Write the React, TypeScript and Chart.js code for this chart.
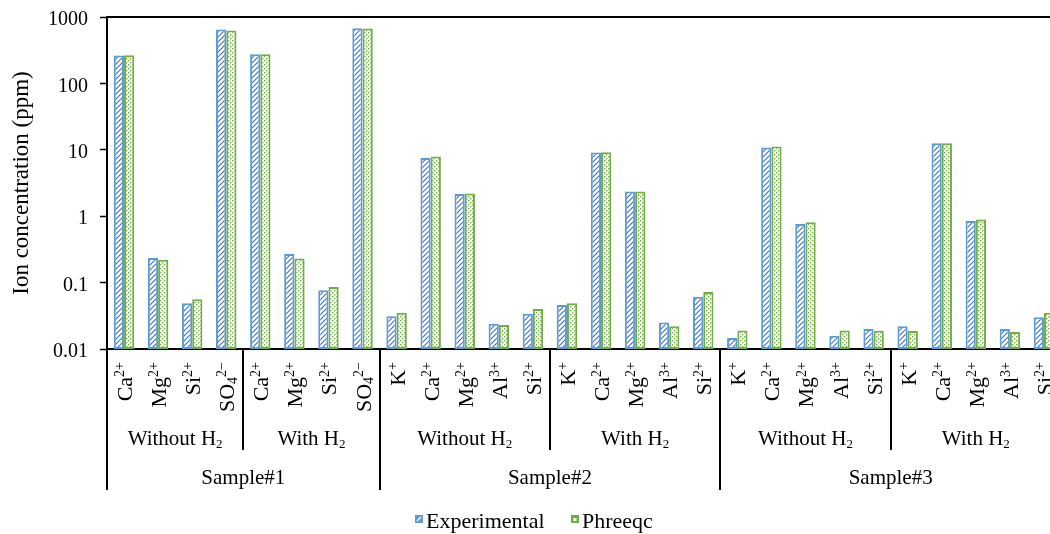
import React, { useEffect, useRef } from "react";
import { Chart, registerables } from "chart.js";

Chart.register(...registerables);

// ---------- data ----------
const ionLabels = [
  "Ca^{2+}", "Mg^{2+}", "Si^{2+}", "SO_{4}^{2−}",
  "Ca^{2+}", "Mg^{2+}", "Si^{2+}", "SO_{4}^{2−}",
  "K^{+}", "Ca^{2+}", "Mg^{2+}", "Al^{3+}", "Si^{2+}",
  "K^{+}", "Ca^{2+}", "Mg^{2+}", "Al^{3+}", "Si^{2+}",
  "K^{+}", "Ca^{2+}", "Mg^{2+}", "Al^{3+}", "Si^{2+}",
  "K^{+}", "Ca^{2+}", "Mg^{2+}", "Al^{3+}", "Si^{2+}",
];
const conditionLabels = [
  "Without H_{2}", "With H_{2}",
  "Without H_{2}", "With H_{2}",
  "Without H_{2}", "With H_{2}",
];
const conditionSizes = [4, 4, 5, 5, 5, 5];
const sampleLabels = ["Sample#1", "Sample#2", "Sample#3"];
const sampleSizes = [8, 10, 10];

const experimental = [
  262, 0.234, 0.049, 650,
  275, 0.27, 0.077, 675,
  0.031, 7.5, 2.16, 0.024, 0.034,
  0.046, 9.1, 2.35, 0.025, 0.061,
  0.0146, 10.8, 0.76, 0.0159, 0.020,
  0.022, 12.6, 0.85, 0.020, 0.030,
];
const phreeqc = [
  265, 0.22, 0.056, 625,
  275, 0.23, 0.086, 670,
  0.035, 7.9, 2.2, 0.023, 0.040,
  0.049, 9.2, 2.35, 0.022, 0.072,
  0.019, 11.2, 0.81, 0.019, 0.0188,
  0.0187, 12.6, 0.89, 0.018, 0.035,
];
const yTicks = [0.01, 0.1, 1, 10, 100, 1000];
const seriesNames = ["Experimental", "Phreeqc"];
const yTitle = "Ion concentration (ppm)";

// ---------- helpers ----------
const FONT = "'Liberation Serif', 'Times New Roman', serif";
const BLUE = "#5B9BD5";
const BLUE_DARK = "#4472C4";
const GREEN = "#70AD47";

type Seg = { t: string; k: "n" | "sup" | "sub" };
function parseRich(s: string): Seg[] {
  const segs: Seg[] = [];
  const re = /([_^])\{([^}]*)\}|([^_^]+)/g;
  let m: RegExpExecArray | null;
  while ((m = re.exec(s))) {
    if (m[3]) segs.push({ t: m[3], k: "n" });
    else segs.push({ t: m[2], k: m[1] === "^" ? "sup" : "sub" });
  }
  return segs;
}

function segFont(k: string, size: number) {
  const s = k === "n" ? size : Math.round(size * 0.62);
  return `${s}px ${FONT}`;
}

function richWidth(ctx: CanvasRenderingContext2D, segs: Seg[], size: number) {
  let w = 0;
  for (const sg of segs) {
    ctx.font = segFont(sg.k, size);
    w += ctx.measureText(sg.t).width;
  }
  return w;
}

// draws rich text starting at x (left), baseline y
function drawRich(ctx: CanvasRenderingContext2D, segs: Seg[], x: number, y: number, size: number) {
  let cx = x;
  ctx.textAlign = "left";
  ctx.textBaseline = "alphabetic";
  for (const sg of segs) {
    ctx.font = segFont(sg.k, size);
    let dy = 0;
    if (sg.k === "sup") dy = -size * 0.36;
    if (sg.k === "sub") dy = size * 0.12;
    ctx.fillText(sg.t, cx, y + dy);
    cx += ctx.measureText(sg.t).width;
  }
}

function makeHatch(): CanvasPattern | string {
  const c = document.createElement("canvas");
  c.width = 5;
  c.height = 5;
  const g = c.getContext("2d");
  if (!g) return "#fff";
  g.fillStyle = "#fff";
  g.fillRect(0, 0, 5, 5);
  g.strokeStyle = BLUE_DARK;
  g.lineWidth = 1.2;
  g.beginPath();
  g.moveTo(-1, 6);
  g.lineTo(6, -1);
  g.moveTo(-1, 1);
  g.lineTo(1, -1);
  g.moveTo(4, 6);
  g.lineTo(6, 4);
  g.stroke();
  const ctx = document.createElement("canvas").getContext("2d");
  return (ctx && ctx.createPattern(c, "repeat")) || "#fff";
}

function makeDots(): CanvasPattern | string {
  const c = document.createElement("canvas");
  c.width = 4;
  c.height = 4;
  const g = c.getContext("2d");
  if (!g) return "#fff";
  g.fillStyle = "#fff";
  g.fillRect(0, 0, 4, 4);
  g.fillStyle = GREEN;
  g.fillRect(0, 0, 1.4, 1.4);
  g.fillRect(2, 2, 1.4, 1.4);
  const ctx = document.createElement("canvas").getContext("2d");
  return (ctx && ctx.createPattern(c, "repeat")) || "#fff";
}

const overlayPlugin = {
  id: "overlay",
  afterDraw(chart: any) {
    const { ctx, chartArea, scales } = chart;
    const xs = scales.x;
    const step = xs.getPixelForValue(1) - xs.getPixelForValue(0);
    const boundary = (i: number) => xs.getPixelForValue(i) - step / 2;
    ctx.save();
    ctx.fillStyle = "#000";
    ctx.strokeStyle = "#000";

    // top frame line
    ctx.lineWidth = 2;
    ctx.beginPath();
    ctx.moveTo(chartArea.left - 1, chartArea.top);
    ctx.lineTo(chartArea.right, chartArea.top);
    ctx.stroke();

    // ion labels (rotated)
    const ionSize = 22;
    ionLabels.forEach((lab, i) => {
      const segs = parseRich(lab);
      const w = richWidth(ctx, segs, ionSize);
      const cx = xs.getPixelForValue(i);
      ctx.save();
      ctx.translate(cx + 8, chartArea.bottom + 13);
      ctx.rotate(-Math.PI / 2);
      drawRich(ctx, segs, -w, 0, ionSize);
      ctx.restore();
    });

    // condition labels
    const condSize = 21;
    let idx = 0;
    const sampleBounds = new Set<number>();
    let acc = 0;
    sampleSizes.forEach((n) => {
      sampleBounds.add(acc);
      acc += n;
      sampleBounds.add(acc);
    });
    conditionLabels.forEach((lab, g) => {
      const n = conditionSizes[g];
      const a = boundary(idx);
      const b = boundary(idx + n);
      const segs = parseRich(lab);
      const w = richWidth(ctx, segs, condSize);
      drawRich(ctx, segs, (a + b) / 2 - w / 2, 445, condSize);
      idx += n;
    });

    // sample labels
    idx = 0;
    sampleLabels.forEach((lab, s) => {
      const n = sampleSizes[s];
      const a = boundary(idx);
      const b = boundary(idx + n);
      ctx.font = `${condSize}px ${FONT}`;
      ctx.textAlign = "center";
      ctx.textBaseline = "alphabetic";
      ctx.fillText(lab, (a + b) / 2, 484);
      idx += n;
    });

    // separators
    ctx.lineWidth = 2;
    const bounds: number[] = [0];
    acc = 0;
    conditionSizes.forEach((n) => {
      acc += n;
      bounds.push(acc);
    });
    bounds.forEach((bi) => {
      const x = Math.round(boundary(bi));
      const yEnd = sampleBounds.has(bi) ? 490 : 450;
      ctx.beginPath();
      ctx.moveTo(x, chartArea.bottom);
      ctx.lineTo(x, yEnd);
      ctx.stroke();
    });

    // y-axis title
    ctx.save();
    ctx.translate(22, 183);
    ctx.rotate(-Math.PI / 2);
    ctx.font = `23px ${FONT}`;
    ctx.textAlign = "center";
    ctx.textBaseline = "middle";
    ctx.fillText(yTitle, 0, 0);
    ctx.restore();

    // legend
    const legendItems = [
      { x: 415, label: seriesNames[0] },
      { x: 571, label: seriesNames[1] },
    ];
    legendItems.forEach((it, k) => {
      const by = 515;
      if (k === 0) {
        ctx.fillStyle = BLUE;
        ctx.fillRect(it.x, by, 8, 8);
        ctx.strokeStyle = "#fff";
        ctx.lineWidth = 1.2;
        ctx.beginPath();
        ctx.moveTo(it.x + 2, by + 6);
        ctx.lineTo(it.x + 6, by + 2);
        ctx.stroke();
      } else {
        ctx.fillStyle = GREEN;
        ctx.fillRect(it.x, by, 8, 8);
        ctx.fillStyle = "#fff";
        ctx.fillRect(it.x + 2.5, by + 3, 3, 3);
      }
      ctx.fillStyle = "#000";
      ctx.font = `22px ${FONT}`;
      ctx.textAlign = "left";
      ctx.textBaseline = "alphabetic";
      ctx.fillText(it.label, it.x + 11, 528);
    });

    ctx.restore();
  },
};

export default function App() {
  const ref = useRef<HTMLCanvasElement | null>(null);

  useEffect(() => {
    const canvas = ref.current;
    if (!canvas) return;
    const hatch = makeHatch();
    const dots = makeDots();
    const chart = new Chart(canvas, {
      type: "bar",
      data: {
        labels: ionLabels,
        datasets: [
          {
            label: seriesNames[0],
            data: experimental,
            backgroundColor: hatch as any,
            borderColor: BLUE,
            borderWidth: 2,
            borderSkipped: false,
            categoryPercentage: 0.6,
            barPercentage: 1,
          },
          {
            label: seriesNames[1],
            data: phreeqc,
            backgroundColor: dots as any,
            borderColor: GREEN,
            borderWidth: 2,
            borderSkipped: false,
            categoryPercentage: 0.6,
            barPercentage: 1,
          },
        ],
      },
      options: {
        responsive: false,
        animation: false,
        devicePixelRatio: 1,
        layout: { padding: { left: 0, right: 9, top: 17, bottom: 185 } },
        plugins: { legend: { display: false }, tooltip: { enabled: false } },
        scales: {
          x: {
            type: "category",
            offset: true,
            grid: { display: false },
            border: { display: true, color: "#000", width: 2 },
            ticks: { display: false },
            afterFit: (s: any) => {
              s.height = 0;
              s.paddingLeft = 0;
              s.paddingRight = 0;
            },
          },
          y: {
            type: "logarithmic",
            min: 0.01,
            max: 1000,
            afterBuildTicks: (s: any) => {
              s.ticks = yTicks.map((v) => ({ value: v }));
            },
            afterFit: (s: any) => {
              s.width = 107;
              s.paddingTop = 0;
              s.paddingBottom = 0;
            },
            grid: {
              display: true,
              drawOnChartArea: false,
              drawTicks: true,
              tickLength: 7,
              tickColor: "#000",
              tickWidth: 1.5,
              color: "#000",
            },
            border: { display: true, color: "#000", width: 2 },
            ticks: {
              padding: 12,
              labelOffset: 3,
              color: "#000",
              font: { family: FONT, size: 20 },
              callback: (v: any) => String(v),
            },
          },
        },
      },
      plugins: [overlayPlugin],
    });
    return () => chart.destroy();
  }, []);

  return (
    <div
      style={{
        position: "fixed",
        left: 0,
        top: 0,
        width: 1050,
        height: 534,
        overflow: "hidden",
        background: "#fff",
      }}
    >
      <canvas ref={ref} width={1070} height={534} style={{ display: "block" }} />
    </div>
  );
}
